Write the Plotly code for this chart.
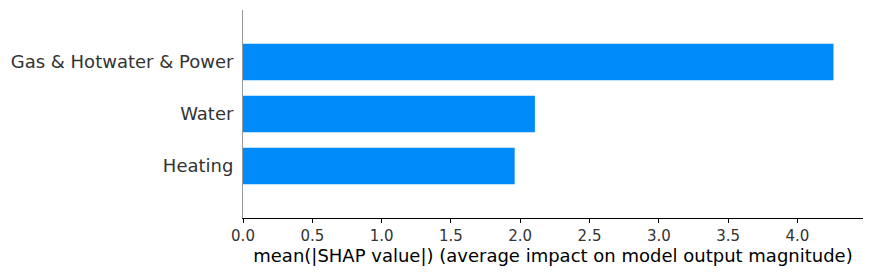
import plotly.graph_objects as go

features = ["Heating", "Water", "Gas & Hotwater & Power"]
values = [1.96, 2.106, 4.26]
positions = [0, 1, 2]
x_ticks = [0.0, 0.5, 1.0, 1.5, 2.0, 2.5, 3.0, 3.5, 4.0]
x_label = "mean(|SHAP value|) (average impact on model output magnitude)"

fig = go.Figure(
    go.Bar(
        x=values,
        y=positions,
        orientation="h",
        width=0.7,
        marker=dict(color="#008bfb", line=dict(width=0)),
        hoverinfo="skip",
    )
)

font_family = "DejaVu Sans"
fig.update_layout(
    width=873,
    height=276,
    margin=dict(l=243, r=10, t=10, b=58, autoexpand=False),
    paper_bgcolor="white",
    plot_bgcolor="white",
    showlegend=False,
    font=dict(family=font_family, color="#333333"),
)
fig.update_xaxes(
    range=[0, 4.473],
    tickvals=x_ticks,
    ticktext=[f"{v:.1f}" for v in x_ticks],
    tickfont=dict(size=15, color="#333333"),
    showgrid=False,
    zeroline=False,
    showline=True,
    linecolor="#000000",
    linewidth=1,
    ticks="outside",
    ticklen=4,
    tickwidth=1,
    tickcolor="#000000",
    automargin=False,
    title=dict(text=x_label, font=dict(size=18, color="#000000"), standoff=5),
)
fig.update_yaxes(
    range=[-1, 3],
    tickvals=positions,
    ticktext=features,
    tickfont=dict(size=18, color="#333333"),
    showgrid=False,
    zeroline=False,
    showline=True,
    linecolor="#999999",
    linewidth=1,
    ticks="",
    ticklabelstandoff=5,
    automargin=False,
)

fig.write_html(
    "out.html",
    config={"displayModeBar": False, "staticPlot": True},
    post_script="document.body.style.margin='0';document.body.style.padding='0';",
)
